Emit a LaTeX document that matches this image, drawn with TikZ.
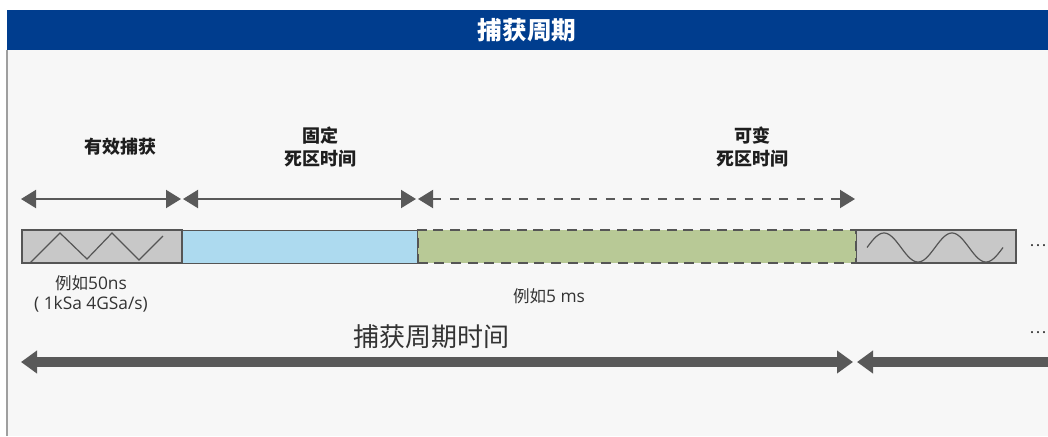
\documentclass[tikz,border=0pt]{standalone}
\usepackage{fontspec}
\newfontfamily\cjk{Noto Sans CJK SC}
\newfontfamily\latn{Open Sans}
\usetikzlibrary{arrows.meta}
\definecolor{bgpanel}{HTML}{F7F7F7}
\definecolor{titleblue}{HTML}{003D8E}
\definecolor{boxgray}{HTML}{C8C8C8}
\definecolor{boxblue}{HTML}{ADDAEF}
\definecolor{boxgreen}{HTML}{B8C996}
\definecolor{edgegray}{HTML}{555555}
\definecolor{arrowgray}{HTML}{595959}
\definecolor{txtdark}{HTML}{1E1E1E}
\definecolor{txtmid}{HTML}{333333}
\newcommand{\lt}[1]{{\latn\fontsize{13pt}{15pt}\selectfont #1}}
\tikzset{
  segbox/.style={inner sep=0pt, minimum height=24.75pt, anchor=west},
  headlbl/.style={font=\cjk\bfseries\fontsize{13.5pt}{17pt}\selectfont, text=txtdark, align=center},
  exlbl/.style={font=\cjk\fontsize{12.4pt}{15.5pt}\selectfont, text=txtmid, align=center},
  biglbl/.style={font=\cjk\fontsize{19.5pt}{22pt}\selectfont, text=txtmid},
  dotslbl/.style={font=\cjk\fontsize{12pt}{14pt}\selectfont, text=txtmid, anchor=west, inner sep=0pt},
  toparrow/.style={draw=arrowgray, line width=1.5pt,
     {Triangle[length=11.25pt,width=13.5pt]}-{Triangle[length=11.25pt,width=13.5pt]}},
  toparrowdash/.style={toparrow, dash pattern=on 6.5pt off 6.5pt},
  cyclearrow/.style={draw=arrowgray, line width=7.5pt,
     {Triangle[length=12pt,width=16.5pt]}-{Triangle[length=12pt,width=16.5pt]}},
  cyclearrowopen/.style={draw=arrowgray, line width=7.5pt,
     {Triangle[length=12pt,width=16.5pt]}-},
  wave/.style={draw=edgegray, line width=0.9pt}
}
\begin{document}
\begin{tikzpicture}[x=0.75pt,y=-0.75pt]
\useasboundingbox (0,0) rectangle (1048,436);
\fill[white] (0,0) rectangle (1048,436);
\fill[bgpanel] (7,50) rectangle (1048,436);
\draw[draw=gray!75, line width=1.5pt] (7,50) -- (7,436);
\fill[titleblue] (7,9.5) rectangle (1048,50);
\node (title) [font=\cjk\bfseries\fontsize{18.5pt}{20pt}\selectfont, text=white] at (527,30) {捕获周期};

% segments
\node (s2) [segbox, fill=boxblue, draw=edgegray, line width=0.6pt, minimum width=177pt] at (181,246.5) {};
\node (s1) [segbox, fill=boxgray, draw=edgegray, line width=1.2pt, minimum width=120pt] at (21,246.5) {};
\node (s4) [segbox, fill=boxgray, draw=edgegray, line width=1.2pt, minimum width=120pt] at (855,246.5) {};
\node (s3) [segbox, fill=boxgreen, draw=edgegray, line width=1.2pt, dash pattern=on 7.5pt off 5pt, minimum width=328.5pt] at (417,246.5) {};

% waves
\draw[wave] (30,263) -- (60,233) -- (87,259) -- (112,233) -- (139,260) -- (163,236);
\draw[wave] plot[domain=867:1003, samples=90, smooth] (\x, {247.5-14.5*sin((\x-867)/68*360)});

% top arrows
\coordinate (a0) at (21,199);
\coordinate (a1) at (181,199);
\coordinate (a2) at (183,199);
\coordinate (a3) at (416,199);
\coordinate (a4) at (418,199);
\coordinate (a5) at (855,199);
\draw[toparrow] (a0) -- (a1);
\draw[toparrow] (a2) -- (a3);
\draw[toparrowdash] (a4) -- (a5);

% labels
\node (l1) [headlbl] at (120,147) {有效捕获};
\node (l2) [headlbl] at (320,147) {固定\\死区时间};
\node (l3) [headlbl] at (752,147) {可变\\死区时间};
\node (e1) [exlbl] at (91,294) {例如\lt{50ns}\\\lt{( 1kSa 4GSa/s)}};
\node (e2) [exlbl] at (549,296) {例如\lt{5 ms}};
\node (cyc) [biglbl] at (431,337) {捕获周期时间};
\node (d1) [dotslbl] at (1029,246) {…};
\node (d2) [dotslbl] at (1029,333) {…};

% bottom arrows
\coordinate (b0) at (21,362);
\coordinate (b1) at (853,362);
\coordinate (b2) at (857,362);
\coordinate (b3) at (1050,362);
\draw[cyclearrow] (b0) -- (b1);
\draw[cyclearrowopen] (b2) -- (b3);
\end{tikzpicture}
\end{document}
